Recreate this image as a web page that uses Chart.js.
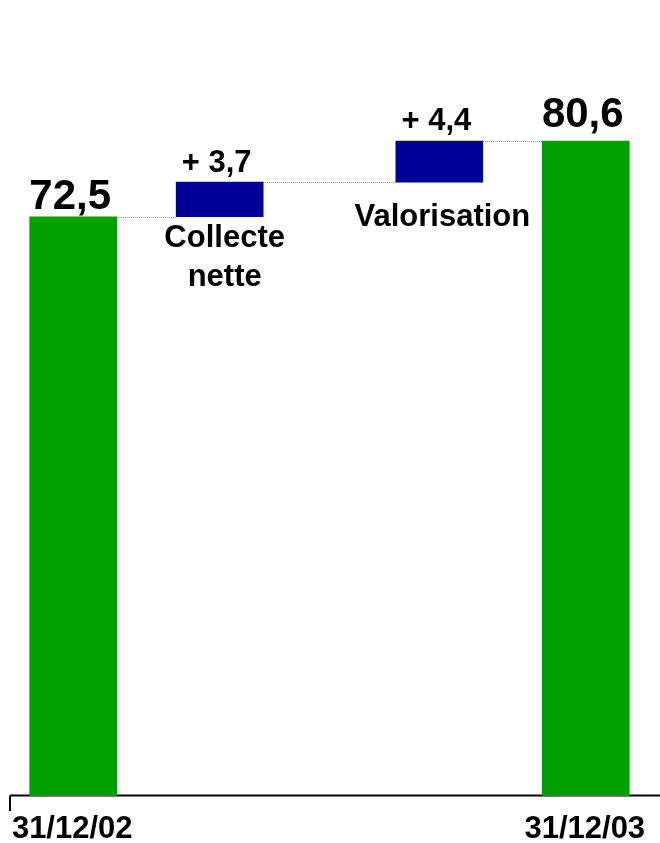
<!DOCTYPE html>
<html>
<head>
<meta charset="utf-8">
<title>Encours</title>
<script src="https://cdn.jsdelivr.net/npm/chart.js@4"></script>
<style>
  html, body { margin: 0; padding: 0; background: #fff; }
  #wrap { width: 660px; height: 843px; }
</style>
</head>
<body>
<div id="wrap"><canvas id="myChart" width="660" height="843"></canvas></div>
<script>
// donnees
const categories = ['31/12/02', 'Collecte nette', 'Valorisation', '31/12/03'];
const startValue = 72.5;
const changes = [3.7, 4.4];
const endValue = 80.6;

// construit les barres flottantes du waterfall
const bars = [[0, startValue]];
let level = startValue;
changes.forEach(c => {
    bars.push([level, +(level + c).toFixed(1)]);
    level = +(level + c).toFixed(1);
});
bars.push([0, endValue]);

const barLabels = [startValue, ...changes.map(c => '+ ' + c), endValue].map(v => String(v).replace('.', ','));
const isTotal = [true, false, false, true];

// emplacement horizontal de chaque colonne (mise en page)
const slots = [1, 3, 6, 8];
const FONT = '"Liberation Sans", Arial, sans-serif';

const waterfallDeco = {
    id: 'waterfallDeco',
    beforeDatasetsDraw(chart) {
        const c = chart.ctx;
        const yb = chart.scales.y.getPixelForValue(chart.scales.y.min);
        c.save();
        c.strokeStyle = '#000';
        c.lineWidth = 2;
        c.beginPath();
        c.moveTo(10, yb - 0.5);
        c.lineTo(660, yb - 0.5);
        c.moveTo(10, yb - 0.5);
        c.lineTo(10, yb + 15);
        c.stroke();

        // pointilles entre les barres
        const pts = chart.getDatasetMeta(0).data;
        c.strokeStyle = '#888';
        c.lineWidth = 1;
        c.setLineDash([1, 1]);
        for (let i = 0; i < pts.length - 1; i++) {
            const a = pts[i], b = pts[i + 1];
            const y = Math.round(a.y) + 0.5;
            c.beginPath();
            c.moveTo(a.x + a.width / 2, y);
            c.lineTo(b.x - b.width / 2, y);
            c.stroke();
        }
        c.restore();
    },
    afterDatasetsDraw(chart) {
        const c = chart.ctx;
        const pts = chart.getDatasetMeta(0).data;
        const yb = chart.scales.y.getPixelForValue(chart.scales.y.min);
        const gaps = [8, 10, 11, 14];
        c.save();
        c.fillStyle = '#000';
        c.textAlign = 'center';
        c.textBaseline = 'alphabetic';
        pts.forEach((p, i) => {
            c.font = (isTotal[i] ? 'bold 42px ' : 'bold 31px ') + FONT;
            c.fillText(barLabels[i], p.x - 3, p.y - gaps[i]);
            if (isTotal[i]) {
                c.font = 'bold 31px ' + FONT;
                c.fillText(categories[i], p.x - 1, yb + 42);
            }
        });
        // libelles des variations sous les barres bleues
        c.font = 'bold 31px ' + FONT;
        const p1 = pts[1], p2 = pts[2];
        const b1 = p1.base, b2 = p2.base;
        const w1 = categories[1].split(' ');
        c.fillText(w1[0], p1.x + 5, b1 + 30);
        c.fillText(w1[1], p1.x + 5, b1 + 69);
        c.fillText(categories[2], p2.x + 3, b2 + 44);
        c.restore();
    }
};

const ctx = document.getElementById('myChart');
new Chart(ctx, {
    type: 'bar',
    data: {
        datasets: [{
            data: bars.map((b, i) => ({ x: slots[i], y: b })),
            backgroundColor: isTotal.map(t => t ? '#00A000' : '#000099'),
            borderWidth: 0,
            borderSkipped: false,
            barThickness: 87
        }]
    },
    options: {
        responsive: false,
        devicePixelRatio: 1,
        animation: false,
        layout: { padding: { top: 0, left: 0, right: 1, bottom: 47 } },
        plugins: {
            legend: { display: false },
            tooltip: { enabled: false }
        },
        scales: {
            x: { type: 'linear', min: 0, max: 9, offset: false, display: false },
            y: { min: 10.5, max: 95.7, display: false }
        }
    },
    plugins: [waterfallDeco]
});
</script>
</body>
</html>
